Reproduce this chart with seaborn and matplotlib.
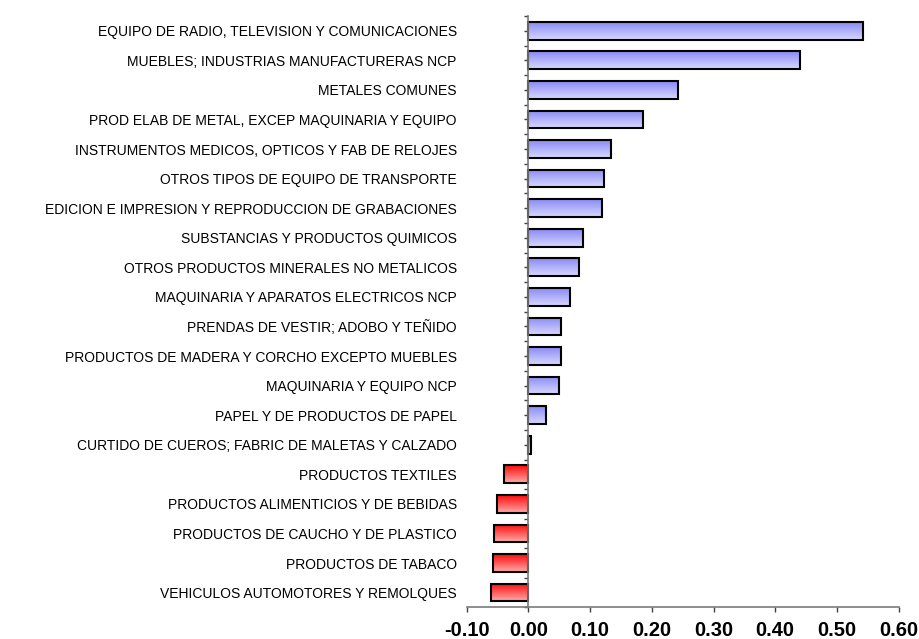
import numpy as np
import pandas as pd
import matplotlib
matplotlib.use("Agg")
import matplotlib.pyplot as plt
import seaborn as sns
from matplotlib.colors import LinearSegmentedColormap
from matplotlib.ticker import MultipleLocator, FormatStrFormatter

# Sectors, top to bottom, and their values
sectors = [
    "EQUIPO DE RADIO, TELEVISION Y COMUNICACIONES",
    "MUEBLES; INDUSTRIAS MANUFACTURERAS NCP",
    "METALES COMUNES",
    "PROD ELAB DE METAL, EXCEP MAQUINARIA Y EQUIPO",
    "INSTRUMENTOS MEDICOS, OPTICOS Y FAB DE RELOJES",
    "OTROS TIPOS DE EQUIPO DE TRANSPORTE",
    "EDICION E IMPRESION Y REPRODUCCION DE GRABACIONES",
    "SUBSTANCIAS Y PRODUCTOS QUIMICOS",
    "OTROS PRODUCTOS MINERALES NO METALICOS",
    "MAQUINARIA Y APARATOS ELECTRICOS NCP",
    "PRENDAS DE VESTIR; ADOBO Y TEÑIDO",
    "PRODUCTOS DE MADERA Y CORCHO EXCEPTO MUEBLES",
    "MAQUINARIA Y EQUIPO NCP",
    "PAPEL Y DE PRODUCTOS DE PAPEL",
    "CURTIDO DE CUEROS; FABRIC DE MALETAS Y CALZADO",
    "PRODUCTOS TEXTILES",
    "PRODUCTOS ALIMENTICIOS Y DE BEBIDAS",
    "PRODUCTOS DE CAUCHO Y DE PLASTICO",
    "PRODUCTOS DE TABACO",
    "VEHICULOS AUTOMOTORES Y REMOLQUES",
]
values = [
    0.543, 0.440, 0.243, 0.185, 0.134, 0.122, 0.119, 0.088, 0.082, 0.067,
    0.052, 0.052, 0.049, 0.028, 0.004, -0.039, -0.051, -0.055, -0.057, -0.060,
]
x_range = [-0.10, 0.60]

sns.set_theme(style="ticks")
plt.rcParams["font.family"] = ["Liberation Sans", "DejaVu Sans"]
plt.rcParams["axes.unicode_minus"] = False

df = pd.DataFrame({"sector": sectors, "valor": values})
df["signo"] = np.where(df["valor"] >= 0, "pos", "neg")

W, H, DPI = 9.2, 6.39, 100
fig = plt.figure(figsize=(W, H), dpi=DPI)
ax_rect = [0.5073, 0.0495, 0.4695, 0.9255]
ax = fig.add_axes(ax_rect)

sns.barplot(
    data=df, x="valor", y="sector", hue="signo",
    palette={"pos": "#b0b0fa", "neg": "#ff5050"},
    width=0.6, dodge=False, legend=False,
    edgecolor="black", linewidth=1.5, ax=ax,
)

# vertical colour gradient inside each bar
blue = LinearSegmentedColormap.from_list("azul", ["#8a8af6", "#d8d8ff"])
red = LinearSegmentedColormap.from_list("rojo", ["#ff0a0a", "#ffaaaa"])
grad = np.linspace(0, 1, 64).reshape(-1, 1)
for p in list(ax.patches):
    x0, y0 = p.get_x(), p.get_y()
    w, h = p.get_width(), p.get_height()
    cmap = blue if w >= 0 else red
    im = ax.imshow(
        grad, cmap=cmap, aspect="auto", origin="upper", interpolation="bilinear",
        extent=(min(x0, x0 + w), max(x0, x0 + w), y0 + h, y0), zorder=1.5,
    )
    im.set_clip_path(p)
    p.set_facecolor("none")
    p.set_zorder(2)

ax.set_xlim(*x_range)
ax.set_ylim(len(sectors) - 0.5, -0.5)
ax.set_xlabel("")
ax.set_ylabel("")

ax.xaxis.set_major_locator(MultipleLocator(0.1))
ax.xaxis.set_major_formatter(FormatStrFormatter("%.2f"))
for lbl in ax.get_xticklabels():
    lbl.set_fontweight("bold")
ax.tick_params(axis="x", which="major", direction="out", length=3.5, width=1,
               color="#404040", labelsize=14.5, pad=6, labelcolor="black")

# category axis drawn through zero, labels kept at the left edge
ax.spines["left"].set_position(("data", 0))
ax.set_yticks(np.arange(len(sectors)))
ax.set_yticks(np.arange(-0.5, len(sectors), 1.0), minor=True)
tick_len_pt = 3.0
axes_w_px = ax_rect[2] * W * DPI
zero_offset_px = axes_w_px * (0 - x_range[0]) / (x_range[1] - x_range[0])
pad_pt = (zero_offset_px + 10) * 72 / DPI - tick_len_pt
ax.tick_params(axis="y", which="both", direction="out", length=tick_len_pt,
               width=1, color="#404040", left=True)
ax.tick_params(axis="y", which="major", pad=pad_pt, labelsize=10, labelcolor="black")

for side in ("top", "right"):
    ax.spines[side].set_visible(False)
for side in ("left", "bottom"):
    ax.spines[side].set_color("#7a7a7a")
    ax.spines[side].set_linewidth(1.2)

fig.savefig("out.png", dpi=DPI)
